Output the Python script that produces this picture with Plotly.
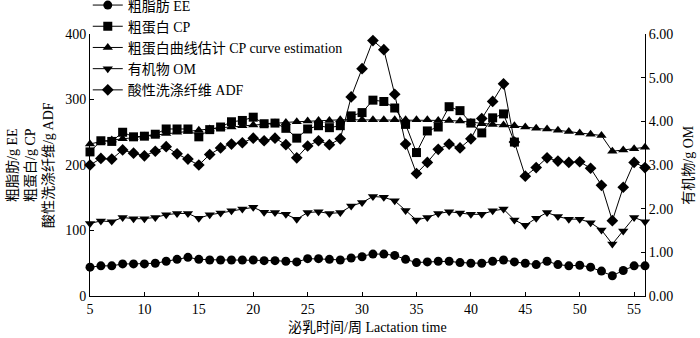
import plotly.graph_objects as go

weeks = [5, 6, 7, 8, 9, 10, 11, 12, 13, 14, 15, 16, 17, 18, 19, 20, 21, 22, 23, 24, 25, 26, 27, 28, 29, 30,
         31, 32, 33, 34, 35, 36, 37, 38, 39, 40, 41, 42, 43, 44, 45, 46, 47, 48, 49, 50, 51, 52, 53, 54, 55, 56]

ee = [44, 46, 46, 49, 49, 49, 50, 53, 56, 59, 56, 55, 55, 55, 55, 55, 54, 54, 53, 52, 57, 57, 56, 55, 58, 60,
      64, 64, 62, 56, 51, 52, 53, 53, 51, 50, 50, 53, 55, 52, 50, 48, 53, 48, 46, 47, 44, 38, 31, 39, 46, 46]

cp_weeks = weeks[:40]
cp = [220, 237, 236, 250, 243, 244, 247, 255, 255, 255, 243, 254, 258, 266, 268, 273, 263, 264, 256, 241,
      255, 260, 257, 260, 275, 280, 299, 297, 287, 262, 219, 252, 258, 289, 283, 264, 249, 272, 278, 235]

cp_est = [232, 236, 238, 240, 242, 244, 246, 248, 250, 251, 253, 255, 257, 258, 260, 261, 262, 264, 265, 266,
          267, 268, 268, 269, 269, 269, 269, 269, 269, 269, 269, 269, 268, 268, 267, 265, 263, 262, 261, 260,
          258, 256, 255, 253, 251, 249, 247, 245, 221, 223, 225, 227]

om = [1.66, 1.72, 1.70, 1.80, 1.77, 1.77, 1.80, 1.86, 1.89, 1.89, 1.78, 1.86, 1.90, 1.95, 1.99, 2.03, 1.92,
      1.91, 1.87, 1.76, 1.91, 1.93, 1.89, 1.91, 2.06, 2.14, 2.28, 2.26, 2.18, 1.96, 1.74, 1.80, 1.89, 1.93,
      1.90, 1.87, 1.87, 1.95, 1.99, 1.74, 1.62, 1.78, 1.91, 1.82, 1.76, 1.76, 1.68, 1.51, 1.19, 1.49, 1.80, 1.70]

adf = [200, 210, 209, 223, 218, 214, 221, 228, 217, 209, 200, 216, 226, 232, 234, 241, 237, 241, 231, 211,
       229, 237, 231, 240, 304, 347, 390, 376, 308, 232, 187, 204, 224, 232, 226, 240, 271, 297, 324, 235,
       183, 196, 211, 206, 204, 205, 195, 169, 115, 166, 204, 196]

names = ["粗脂肪 EE", "粗蛋白 CP", "粗蛋白曲线估计 CP curve estimation", "有机物 OM", "酸性洗涤纤维 ADF"]
left_title = "粗脂肪/g EE<br>粗蛋白/g CP<br>酸性洗涤纤维/g ADF"
right_title = "有机物/g OM"
x_title = "泌乳时间/周 Lactation time"

FONT = "Liberation Serif, Times New Roman, Noto Sans CJK SC, serif"
line = dict(color="black", width=1)

fig = go.Figure()
fig.add_trace(go.Scatter(x=weeks, y=ee, name=names[0], mode="lines+markers", line=line,
                         marker=dict(symbol="circle", size=9, color="black"), cliponaxis=False))
fig.add_trace(go.Scatter(x=cp_weeks, y=cp, name=names[1], mode="lines+markers", line=line,
                         marker=dict(symbol="square", size=9, color="black"), cliponaxis=False))
fig.add_trace(go.Scatter(x=weeks, y=cp_est, name=names[2], mode="lines+markers", line=line,
                         marker=dict(symbol="triangle-up", size=9, color="black"), cliponaxis=False))
fig.add_trace(go.Scatter(x=weeks, y=om, name=names[3], mode="lines+markers", line=line, yaxis="y2",
                         marker=dict(symbol="triangle-down", size=9, color="black"), cliponaxis=False))
fig.add_trace(go.Scatter(x=weeks, y=adf, name=names[4], mode="lines+markers", line=line,
                         marker=dict(symbol="diamond", size=9, color="black"), cliponaxis=False))

axis_common = dict(showgrid=False, zeroline=False, showline=True, linecolor="black", linewidth=1,
                   ticks="inside", ticklen=4, tickcolor="black", tickwidth=1, automargin=False,
                   tickfont=dict(family=FONT, size=14, color="black"))

fig.update_layout(
    width=700, height=338,
    margin=dict(l=90, r=55, t=34, b=42, autoexpand=False),
    paper_bgcolor="white", plot_bgcolor="white",
    font=dict(family=FONT, size=14, color="black"),
    showlegend=True,
    legend=dict(x=-0.004, y=1.17, xanchor="left", yanchor="top", bgcolor="rgba(0,0,0,0)",
                font=dict(family=FONT, size=14, color="black"), itemwidth=30,
                tracegroupgap=0),
    xaxis=dict(range=[5, 56], tick0=5, dtick=5, **axis_common),
    yaxis=dict(range=[0, 400], dtick=100, **axis_common),
    yaxis2=dict(range=[0, 6], dtick=1, tickformat=".2f", overlaying="y", side="right", **axis_common),
)

fig.add_annotation(text=left_title, xref="paper", yref="paper", x=-0.108, y=0.5,
                   xanchor="center", yanchor="middle", textangle=-90, showarrow=False,
                   font=dict(family=FONT, size=14, color="black"))
fig.add_annotation(text=right_title, xref="paper", yref="paper", x=1.077, y=0.5,
                   xanchor="center", yanchor="middle", textangle=-90, showarrow=False,
                   font=dict(family=FONT, size=14, color="black"))
fig.add_annotation(text=x_title, xref="paper", yref="paper", x=0.5, y=-0.122,
                   xanchor="center", yanchor="middle", showarrow=False,
                   font=dict(family=FONT, size=14, color="black"))

fig.write_html("out.html", config={"displayModeBar": False},
               post_script="document.body.style.margin='0px';document.body.style.overflow='hidden';")
